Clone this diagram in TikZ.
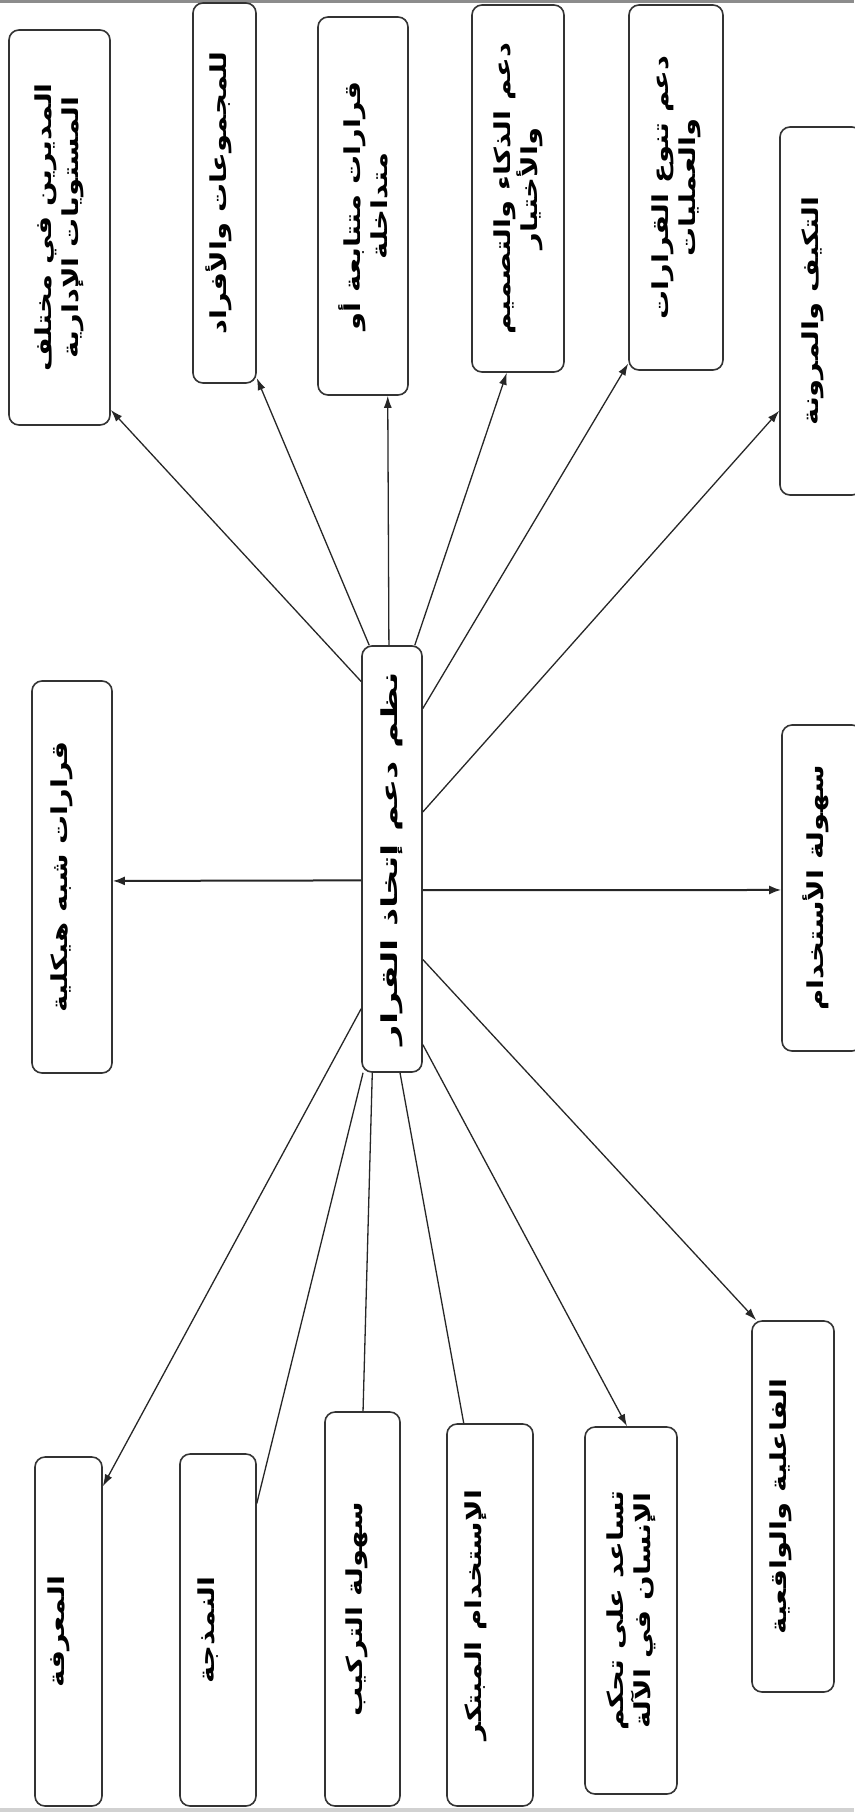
\documentclass[tikz,border=0pt]{standalone}
\usepackage{fontspec}
\newfontfamily\arabicfont[Script=Arabic,FakeStretch=1.32]{DejaVu Sans}
\newfontfamily\arabicwide[Script=Arabic,FakeStretch=1.62]{DejaVu Sans}
\TeXXeTstate=1
\usetikzlibrary{arrows.meta,calc}
\newcommand{\rl}[1]{\beginR #1\endR}
\begin{document}
\begin{tikzpicture}[x=1pt,y=-1pt,
  box/.style={draw=black!80,line width=1.6pt,rounded corners=10pt,fill=white,inner sep=0pt},
  lbl/.style={rotate=90,align=center,inner sep=0pt,text=black,
    font=\arabicfont\bfseries\fontsize{22}{27}\selectfont},
  link/.style={draw=black!85,line width=1.3pt},
  arr/.style={link,-{Latex[length=12pt,width=8pt]}},
  bigarr/.style={draw=black!85,line width=2pt,-{Latex[length=12pt,width=9pt]}}]

% page
\fill[white] (0,0) rectangle (854,1812);
\useasboundingbox (0,0) rectangle (854,1812);
\fill[black!45] (0,0) rectangle (854,3);
\fill[black!18] (0,1808) rectangle (854,1812);

% central box
\node[box,minimum width=60pt,minimum height=426pt] (dss) at (392,859) {};
\node[lbl,font=\arabicwide\bfseries\fontsize{22}{27}\selectfont] (tdss) at (dss.center) {\rl{نظم دعم إتخاذ القرار}};

% upper row
\node[box,minimum width=101pt,minimum height=395pt] (A) at (59.5,227.5) {};
\node[box,minimum width=63pt,minimum height=380pt] (B) at (224.5,193) {};
\node[box,minimum width=90pt,minimum height=378pt] (C) at (363,206) {};
\node[box,minimum width=92pt,minimum height=367pt] (D) at (518,188.5) {};
\node[box,minimum width=94pt,minimum height=365pt] (E) at (676,187.5) {};
\node[box,minimum width=82pt,minimum height=368pt] (F) at (821,311) {};

\node[lbl] (tA) at (A.center) {\rl{المديرين في مختلف}\\\rl{المستويات الإدارية}};
\node[lbl] (tB) at ([xshift=-6pt]B.center) {\rl{للمجموعات والأفراد}};
\node[lbl] (tC) at (C.center) {\rl{قرارات متتابعة أو}\\\rl{متداخلة}};
\node[lbl] (tD) at (D.center) {\rl{دعم الذكاء والتصميم}\\\rl{والأختيار}};
\node[lbl] (tE) at (E.center) {\rl{دعم تنوع القرارات}\\\rl{والعمليات}};
\node[lbl] (tF) at ([xshift=-8pt]F.center) {\rl{التكيف والمرونة}};

% side boxes
\node[box,minimum width=80pt,minimum height=392pt] (G) at (72,877) {};
\node[box,minimum width=80pt,minimum height=326pt] (H) at (822,888) {};
\node[lbl] (tG) at ([xshift=-10pt]G.center) {\rl{قرارات شبه هيكلية}};
\node[lbl] (tH) at ([xshift=-6pt]H.center) {\rl{سهولة الأستخدام}};

% lower row
\node[box,minimum width=67pt,minimum height=349pt] (K1) at (68.5,1631.5) {};
\node[box,minimum width=76pt,minimum height=352pt] (K2) at (218,1630) {};
\node[box,minimum width=75pt,minimum height=394pt] (K3) at (362.5,1609) {};
\node[box,minimum width=86pt,minimum height=382pt] (K4) at (490,1615) {};
\node[box,minimum width=92pt,minimum height=367pt] (K5) at (631,1610.5) {};
\node[box,minimum width=82pt,minimum height=371pt] (K6) at (793,1506.5) {};

\node[lbl] (tK1) at ([xshift=-10pt]K1.center) {\rl{المعرفة}};
\node[lbl] (tK2) at ([xshift=-10pt]K2.center) {\rl{النمذجة}};
\node[lbl] (tK3) at ([xshift=-6pt]K3.center) {\rl{سهولة التركيب}};
\node[lbl] (tK4) at ([xshift=-14pt]K4.center) {\rl{الإستخدام المبتكر}};
\node[lbl] (tK5) at (K5.center) {\rl{تساعد على تحكم}\\\rl{الإنسان في الآلة}};
\node[lbl] (tK6) at ([xshift=-12pt]K6.center) {\rl{الفاعلية والواقعية}};

% connectors to the upper row
\draw[arr] ($(dss.north west)!0.085!(dss.south west)$) -- ($(A.north east)!0.96!(A.south east)$);
\draw[arr] ($(dss.north west)!0.13!(dss.north east)$) -- ($(B.north east)!0.985!(B.south east)$);
\draw[arr] ($(dss.north west)!0.45!(dss.north east)$) -- ($(C.south west)!0.77!(C.south east)$);
\draw[arr] ($(dss.north west)!0.87!(dss.north east)$) -- ($(D.south west)!0.38!(D.south east)$);
\draw[arr] ($(dss.north east)!0.148!(dss.south east)$) -- ($(E.north west)!0.98!(E.south west)$);
\draw[arr] ($(dss.north east)!0.39!(dss.south east)$) -- ($(F.north west)!0.77!(F.south west)$);

% connectors to the sides
\draw[bigarr] ($(dss.north west)!0.55!(dss.south west)$) -- ($(G.north east)!0.51!(G.south east)$);
\draw[bigarr] ($(dss.north east)!0.573!(dss.south east)$) -- ($(H.north west)!0.506!(H.south west)$);

% connectors to the lower row
\draw[arr] ($(dss.north west)!0.85!(dss.south west)$) -- ($(K1.north east)!0.086!(K1.south east)$);
\draw[link] ($(dss.south west)!0.03!(dss.south east)$) -- ($(K2.north east)!0.142!(K2.south east)$);
\draw[link] ($(dss.south west)!0.18!(dss.south east)$) -- ($(K3.north west)!0.507!(K3.north east)$);
\draw[link] ($(dss.south west)!0.63!(dss.south east)$) -- ($(K4.north west)!0.2!(K4.north east)$);
\draw[arr] ($(dss.north east)!0.934!(dss.south east)$) -- ($(K5.north west)!0.457!(K5.north east)$);
\draw[arr] ($(dss.north east)!0.735!(dss.south east)$) -- ($(K6.north west)!0.06!(K6.north east)$);
\end{tikzpicture}
\end{document}
